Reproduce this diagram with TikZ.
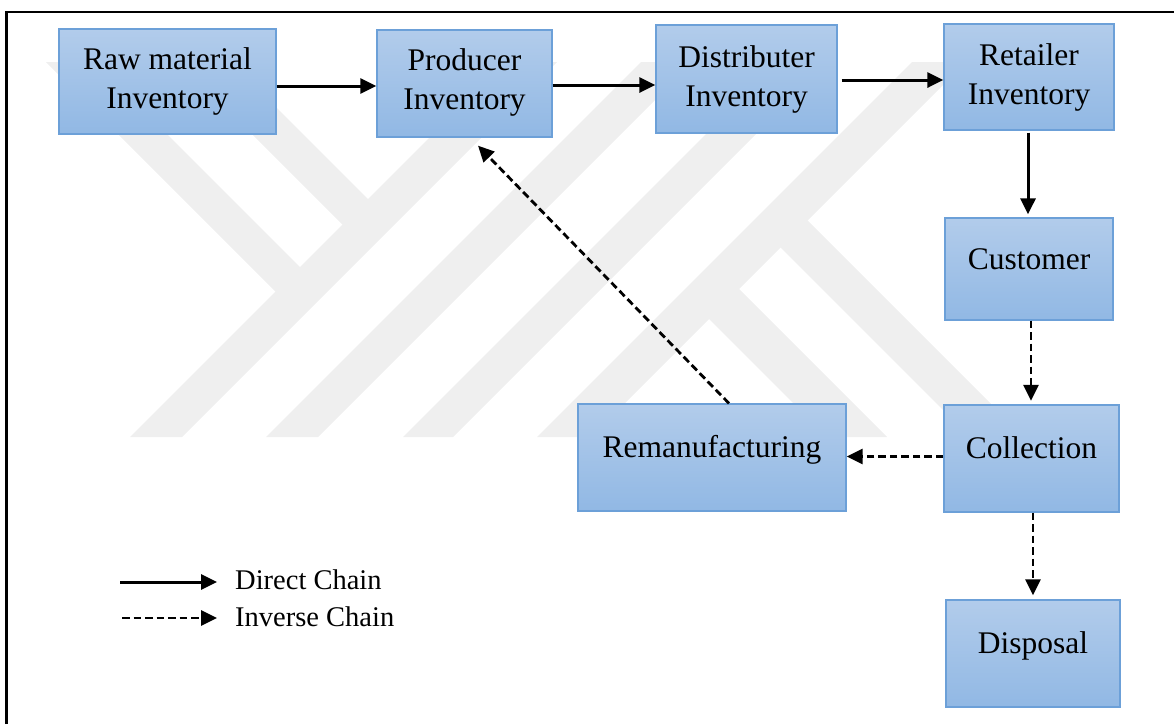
\documentclass[tikz,border=0pt]{standalone}
\usepackage{fontspec}
\setmainfont{Liberation Serif}
\usetikzlibrary{arrows.meta}
\definecolor{boxtop}{RGB}{178,204,235}
\definecolor{boxbot}{RGB}{145,184,228}
\definecolor{boxline}{RGB}{108,160,216}
\definecolor{wmgray}{RGB}{239,239,239}
\begin{document}
\begin{tikzpicture}[x=1pt,y=-1pt,
  stage/.style={draw=boxline, line width=1.3pt, top color=boxtop, bottom color=boxbot, inner sep=0pt},
  boxtext/.style={font=\fontsize{31.5}{39}\selectfont, inner sep=0pt, align=center, anchor=base},
  legtext/.style={font=\fontsize{28.5}{34}\selectfont, inner sep=0pt, anchor=base west},
  direct/.style={line width=3pt, -{Triangle[length=16pt,width=15pt]}},
  inverse/.style={direct, line width=2.8pt, dash pattern=on 7.5pt off 4pt},
  band/.style={fill=wmgray}
]
\useasboundingbox (0,0) rectangle (1174,724);

% faint background emblem made of diagonal bands
\fill[band] (46,62) -- (95,62) -- (313,280) -- (288.5,304.5) -- cycle;
\fill[band] (180,62) -- (231,62) -- (381,212) -- (355.5,237.5) -- cycle;
\fill[band] (130,437) -- (182,437) -- (557,62) -- (505,62) -- cycle;
\fill[band] (266,437) -- (318,437) -- (693,62) -- (641,62) -- cycle;
\fill[band] (403,437) -- (453,437) -- (828,62) -- (778,62) -- cycle;
\fill[band] (537,437) -- (591,437) -- (966,62) -- (912,62) -- cycle;
\fill[band] (695,305) -- (725,275) -- (887,437) -- (827,437) -- cycle;
\fill[band] (766.5,233.5) -- (793.5,206.5) -- (1024,437) -- (970,437) -- cycle;

% frame
\draw[line width=2.8pt] (6.5,724) -- (6.5,12) -- (1174,12);

% stages
\node[stage, minimum width=217pt, minimum height=105pt] (raw)   at (167.5,81.5) {};
\node[stage, minimum width=175pt, minimum height=107pt] (prod)  at (464.5,83.5) {};
\node[stage, minimum width=181pt, minimum height=108pt] (dist)  at (746.5,79) {};
\node[stage, minimum width=170pt, minimum height=106pt] (ret)   at (1029,77) {};
\node[stage, minimum width=168pt, minimum height=102pt] (cust)  at (1029,269) {};
\node[stage, minimum width=175pt, minimum height=107pt] (coll)  at (1031.5,458.5) {};
\node[stage, minimum width=174pt, minimum height=107pt] (disp)  at (1033,653.5) {};
\node[stage, minimum width=268pt, minimum height=107pt] (reman) at (712,457.5) {};

% two-line labels are placed by the baseline of their last line
\node[boxtext] (rawT)   at (167.5,108) {Raw material\\Inventory};
\node[boxtext] (prodT)  at (464.5,109) {Producer\\Inventory};
\node[boxtext] (distT)  at (746.5,106) {Distributer\\Inventory};
\node[boxtext] (retT)   at (1029,104)  {Retailer\\Inventory};
\node[boxtext] (custT)  at (1029,269)  {Customer};
\node[boxtext] (collT)  at (1031.5,458) {Collection};
\node[boxtext] (dispT)  at (1033,653)  {Disposal};
\node[boxtext] (remanT) at (712,457)   {Remanufacturing};

% direct chain
\coordinate (a1) at ([yshift=-4.5pt]raw.east);
\draw[direct] (a1) -- (a1 -| prod.west);
\coordinate (a2) at ([yshift=-1.5pt]prod.east);
\draw[direct] (a2) -- (a2 -| dist.west);
\coordinate (a3) at ([xshift=4pt,yshift=-1pt]dist.east);
\draw[direct] (a3) -- (a3 -| ret.west);
\coordinate (a4) at ([xshift=-1pt,yshift=-2pt]ret.south);
\path (a4 |- cust.north) ++(0,-3) coordinate (a4e);
\draw[direct] (a4) -- (a4e);

% inverse chain
\coordinate (a5) at ([xshift=2pt]cust.south);
\path (a5 |- coll.north) ++(0,-3.5) coordinate (a5e);
\draw[inverse] (a5) -- (a5e);
\coordinate (a6) at ([xshift=1.5pt]coll.south);
\path (a6 |- disp.north) ++(0,-4) coordinate (a6e);
\draw[inverse] (a6) -- (a6e);
\coordinate (a7) at ([yshift=2pt]coll.west);
\draw[inverse] (a7) -- (a7 -| reman.east);
\coordinate (a8) at ([xshift=17pt]reman.north);
\coordinate (a8e) at ([xshift=13.5pt,yshift=-8pt]prod.south);
\draw[inverse] (a8) -- (a8e);

% legend
\coordinate (l1s) at (120,582);
\coordinate (l1e) at (217,582);
\coordinate (l2s) at (122,618);
\coordinate (l2e) at (217,618);
\draw[direct] (l1s) -- (l1e);
\draw[inverse] (l2s) -- (l2e);
\node[legtext] (legD) at (235,589) {Direct Chain};
\node[legtext] (legI) at (235,626) {Inverse Chain};
\end{tikzpicture}
\end{document}
